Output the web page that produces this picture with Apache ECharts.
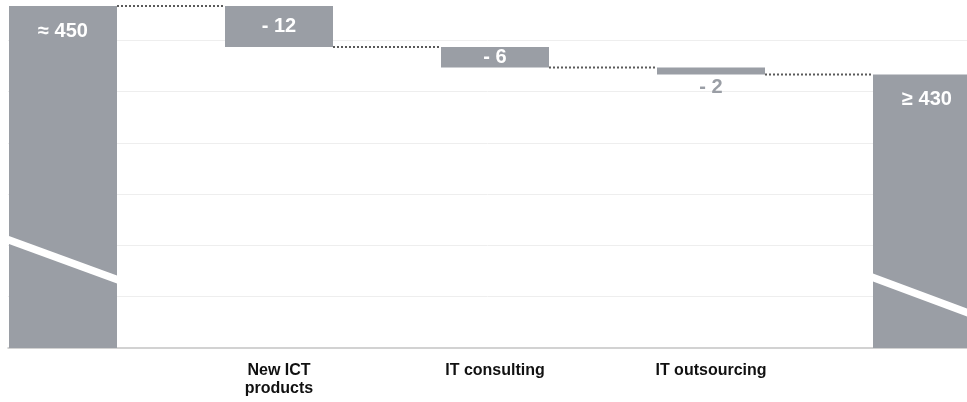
<!DOCTYPE html>
<html>
<head>
<meta charset="utf-8">
<title></title>
<style>
  html, body { margin: 0; padding: 0; background: #fff; }
  #chart { width: 967px; height: 402px; }
</style>
</head>
<body>
<div id="chart"></div>
<script src="https://cdn.jsdelivr.net/npm/echarts@6/dist/echarts.min.js"></script>
<script>
// categories (first and last bar have no axis label)
var categories = ['', 'New ICT\nproducts', 'IT consulting', 'IT outsourcing', ''];
var startValue = 450;
var changes = [-12, -6, -2];
var endValue = 430;
var barLabels = ['≈ 450', '- 12', '- 6', '- 2', '≥ 430'];
// axis is broken: shown range only
var axisMin = 350;
var axisMax = 450;
// break marks on the first and last bar: [category index, level at left edge, level at right edge]
var breaks = [[0, 381.6, 370.0], [4, 370.6, 358.9]];

var barColor = '#9a9ea5';

// running totals after each bar
var running = [startValue];
for (var i = 0; i < changes.length; i++) {
  running.push(running[running.length - 1] + changes[i]);
}
var helper = [0];
var visible = [startValue];
for (var i = 0; i < changes.length; i++) {
  helper.push(Math.min(running[i], running[i + 1]));
  visible.push(Math.abs(changes[i]));
}
helper.push(0);
visible.push(endValue);

var visibleData = visible.map(function (v, i) {
  var item = { value: v, label: { formatter: barLabels[i] } };
  if (i === 0 || i === visible.length - 1) {
    item.label.position = 'insideTop';
    item.label.distance = 15;
  } else if (changes[i - 1] > -4) {
    // tiny bar: label below it
    item.label.position = 'bottom';
    item.label.distance = 3;
    item.label.color = '#9a9ea5';
  } else {
    item.label.position = 'inside';
  }
  return item;
});

// connector levels: from bar i to bar i+1
var connectors = [];
for (var i = 0; i < running.length; i++) {
  connectors.push([i, running[i]]);
}

var chart = echarts.init(document.getElementById('chart'));
var option = {
  animation: false,
  grid: [
    { left: -45, right: -68, top: 6, bottom: 54, outerBoundsMode: 'none' },
    { left: 8, right: 0, top: 6, bottom: 54, outerBoundsMode: 'none' }
  ],
  xAxis: [{
    type: 'category',
    gridIndex: 0,
    data: categories,
    axisLine: { show: false },
    axisTick: { show: false },
    axisLabel: {
      margin: 14,
      color: '#111',
      fontFamily: 'Liberation Sans, Arial, sans-serif',
      fontWeight: 'bold',
      fontSize: 16,
      lineHeight: 18
    },
    splitLine: { show: false }
  }, {
    type: 'value',
    gridIndex: 1,
    min: 0,
    max: 1,
    axisLine: { show: true, lineStyle: { color: '#c4c4c4', width: 1.5 } },
    axisTick: { show: false },
    axisLabel: { show: false },
    splitLine: { show: false }
  }],
  yAxis: [{
    type: 'value',
    gridIndex: 0,
    min: axisMin,
    max: axisMax,
    show: false
  }, {
    // only for the light horizontal grid lines
    type: 'value',
    gridIndex: 1,
    min: 0,
    max: axisMax - axisMin,
    interval: 15,
    axisLine: { show: false },
    axisTick: { show: false },
    axisLabel: { show: false },
    splitLine: { show: true, showMaxLine: false, showMinLine: false, lineStyle: { color: '#eeeeee', width: 1 } }
  }],
  series: [{
    type: 'bar',
    stack: 'w',
    xAxisIndex: 0,
    yAxisIndex: 0,
    barWidth: '50%',
    itemStyle: { color: 'transparent' },
    data: helper
  }, {
    type: 'bar',
    stack: 'w',
    xAxisIndex: 0,
    yAxisIndex: 0,
    barWidth: '50%',
    itemStyle: { color: barColor },
    label: {
      show: true,
      color: '#fff',
      fontFamily: 'Liberation Sans, Arial, sans-serif',
      fontWeight: 'bold',
      fontSize: 20
    },
    data: visibleData
  }, {
    type: 'custom',
    xAxisIndex: 0,
    yAxisIndex: 0,
    z: 3,
    encode: { x: 0, y: 1 },
    data: connectors,
    renderItem: function (params, api) {
      var p = api.coord([api.value(0), api.value(1)]);
      var band = api.size([1, 0])[0];
      return {
        type: 'line',
        shape: { x1: p[0] + band * 0.25, y1: p[1], x2: p[0] + band * 0.75, y2: p[1] },
        style: { stroke: '#5a5a5a', lineWidth: 2, lineDash: [2, 2] }
      };
    }
  }, {
    type: 'custom',
    xAxisIndex: 0,
    yAxisIndex: 0,
    z: 4,
    encode: { x: 0, y: 1 },
    data: breaks,
    renderItem: function (params, api) {
      var idx = api.value(0);
      var pl = api.coord([idx, api.value(1)]);
      var pr = api.coord([idx, api.value(2)]);
      var half = api.size([1, 0])[0] * 0.25;
      var t = 4;
      return {
        type: 'polygon',
        shape: {
          points: [
            [pl[0] - half, pl[1] - t],
            [pl[0] + half, pr[1] - t],
            [pl[0] + half, pr[1] + t],
            [pl[0] - half, pl[1] + t]
          ]
        },
        style: { fill: '#fff' }
      };
    }
  }]
};
chart.setOption(option);
</script>
</body>
</html>
